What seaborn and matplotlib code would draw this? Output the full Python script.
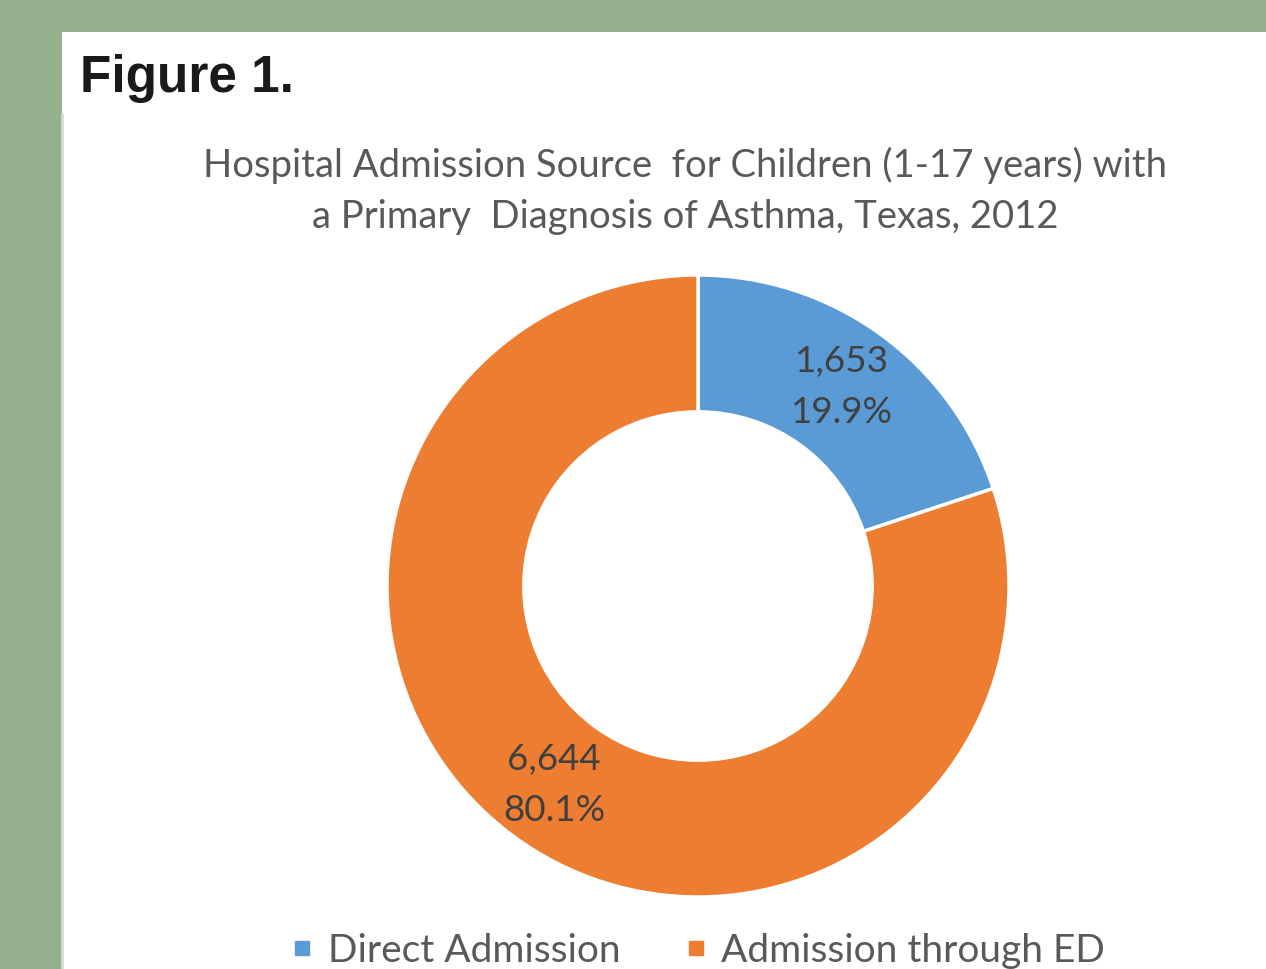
import matplotlib
matplotlib.use("Agg")
import matplotlib.pyplot as plt
import seaborn as sns
from matplotlib.lines import Line2D
from matplotlib.patches import Rectangle

# data
sources = ["Direct Admission", "Admission through ED"]
counts = [1653, 6644]
colors = ["#5B9BD5", "#ED7D31"]
title = "Hospital Admission Source  for Children (1-17 years) with\na Primary  Diagnosis of Asthma, Texas, 2012"

sns.set_theme(style="white")
plt.rcParams["font.family"] = ["Lato", "DejaVu Sans"]

W, H = 1266, 969
fig = plt.figure(figsize=(W / 100, H / 100), dpi=100)
fig.patch.set_facecolor("#95B08C")

# white panel
fig.add_artist(Rectangle((62 / W, 0), 1 - 62 / W, 1 - 32 / H, transform=fig.transFigure,
                         facecolor="white", edgecolor="none", zorder=0))
fig.add_artist(Line2D([62 / W, 62 / W], [0, 1 - 114 / H], transform=fig.transFigure,
                      color="#d9d9d9", lw=2, zorder=1))

fig.text(80 / W, 1 - 92 / H, "Figure 1.", fontsize=37, fontweight="bold",
         color="#1a1a1a", family=["Liberation Sans", "DejaVu Sans"])

fig.text(685 / W, 1 - 191 / H, title, ha="center", va="center", fontsize=27.5,
         color="#595959", linespacing=1.5)

# donut
cx, cy, r = 698, 586, 311
ax = fig.add_axes([(cx - r) / W, (H - cy - r) / H, 2 * r / W, 2 * r / H])
total = sum(counts)


def fmt(p):
    return f"{round(p * total / 100):,}\n{p:.1f}%"


wedges, texts, autotexts = ax.pie(counts, colors=colors, startangle=90, counterclock=False,
                                  autopct=fmt, pctdistance=0.79,
                                  wedgeprops=dict(width=0.44, edgecolor="white", linewidth=2.5),
                                  textprops=dict(fontsize=26.5, color="#404040", linespacing=1.65))
ax.set_xlim(-1, 1)
ax.set_ylim(-1, 1)
ax.set_aspect("equal")
ax.axis("off")

handles = [Line2D([], [], marker="s", linestyle="none", markersize=10,
                  markerfacecolor=c, markeredgecolor=c) for c in colors]
fig.legend(handles, sources, loc="center", bbox_to_anchor=(698 / W, 1 - 951 / H), ncol=2,
           frameon=False, fontsize=28, labelcolor="#595959", handletextpad=0.35,
           columnspacing=1.65, handlelength=0.6)

fig.savefig("out.png", dpi=100, facecolor=fig.get_facecolor())
